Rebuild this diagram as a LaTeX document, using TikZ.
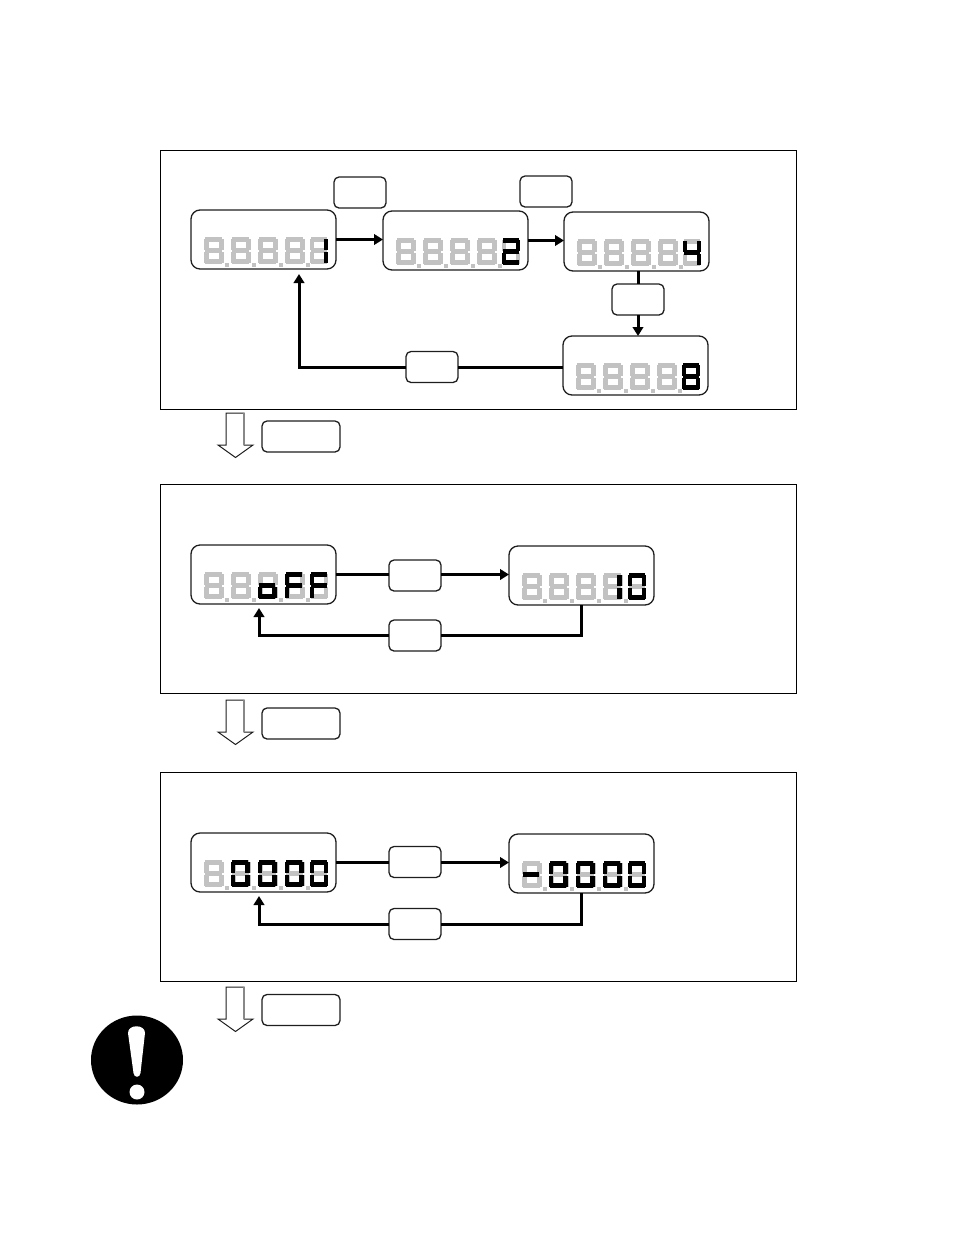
\documentclass[tikz,border=0pt]{standalone}
\usetikzlibrary{arrows.meta,shapes.geometric}
\definecolor{lcdgray}{HTML}{C2C2C2}
\definecolor{edgeink}{HTML}{1E1E1E}
\tikzset{
  panel/.style={draw=black,line width=1pt,fill=none},
  display/.style={draw=edgeink,line width=1.3pt,rounded corners=9pt,fill=white,inner sep=0pt,outer sep=0pt,minimum width=145pt,minimum height=59pt},
  keybox/.style={draw=edgeink,line width=1.3pt,rounded corners=5pt,fill=white,inner sep=0pt,outer sep=0pt,minimum width=52pt,minimum height=31pt},
  widekey/.style={keybox,minimum width=78pt},
  wire/.style={line width=3pt,black},
  arrowwire/.style={wire,-{Triangle[length=9pt,width=10.5pt]}},
  downarrow/.style={draw=edgeink,line width=1pt,fill=white,line join=miter}
}
\newcommand{\lcdsega}{\fill (1.5,0) rectangle (18.5,4.8);}
\newcommand{\lcdsegb}{\fill (15.2,1.5) rectangle (20,12.5);}
\newcommand{\lcdsegc}{\fill (15.2,14.5) rectangle (20,25.5);}
\newcommand{\lcdsegd}{\fill (1.5,22.2) rectangle (18.5,27);}
\newcommand{\lcdsege}{\fill (0,14.5) rectangle (4.8,25.5);}
\newcommand{\lcdsegf}{\fill (0,1.5) rectangle (4.8,12.5);}
\newcommand{\lcdsegg}{\fill (1.5,11.1) rectangle (18.5,15.9);}
% #1 node, #2 digit index 0-3, #3 segments
\newcommand{\lcdblack}[3]{%
  \begin{scope}[shift={(#1.north west)},shift={(12.8+27*#2,27)},xscale=.95,black]
    \foreach \s in {#3}{\csname lcdseg\s\endcsname}
  \end{scope}}
% rightmost digit: sits a little to the left and is a little narrower
\newcommand{\lcdlast}[2]{%
  \begin{scope}[shift={(#1.north west)},shift={(118.8,27)},xscale=.92,black]
    \foreach \s in {#2}{\csname lcdseg\s\endcsname}
  \end{scope}}
\newcommand{\lcdbase}[1]{%
  \begin{scope}[shift={(#1.north west)},shift={(12.8,27)},lcdgray]
    \foreach \i in {0,...,3}{%
      \begin{scope}[shift={(27*\i,0)}]
        \foreach \s in {a,b,c,d,e,f,g}{\csname lcdseg\s\endcsname}
      \end{scope}}
    \begin{scope}[shift={(106,0)},xscale=.92]
      \foreach \s in {a,b,c,d,e,f,g}{\csname lcdseg\s\endcsname}
    \end{scope}
    \foreach \i in {0,...,3}{\fill (21.5+27*\i,25.5) rectangle (25.5+27*\i,29.5);}
  \end{scope}}
\newcommand{\downarrowshape}[1]{%
  \draw[downarrow] (226,#1) -- (244,#1) -- (244,#1+32) -- (253,#1+32) -- (235.5,#1+44.5) -- (218,#1+32) -- (226,#1+32) -- cycle;
  \draw[lcdgray!70!black,line width=1.1pt] (244,#1) -- (244,#1+32);}
\begin{document}
\begin{tikzpicture}[x=1pt,y=-1pt]
\useasboundingbox (0,0) rectangle (954,1235);
% panels
\draw[panel] (160,150) rectangle (796,409);
\draw[panel] (160,484) rectangle (796,693);
\draw[panel] (160,772) rectangle (796,981);
% panel 1
\node[display] (a1) at (263.5,239.5) {};
\node[display] (a2) at (455.5,240.5) {};
\node[display] (a3) at (636.5,241.5) {};
\node[display] (a4) at (635.5,365.5) {};
\node[keybox] (ka) at (360,192.5) {};
\node[keybox] (kb) at (546,191.5) {};
\node[keybox] (kc) at (638,299.5) {};
\node[keybox] (kd) at (432,367) {};
\coordinate (tipa) at (299,274);
\lcdbase{a1}\lcdbase{a2}\lcdbase{a3}\lcdbase{a4}
\lcdlast{a1}{b,c}
\lcdlast{a2}{a,b,g,e,d}
\lcdlast{a3}{f,g,b,c}
\lcdlast{a4}{a,b,c,d,e,f,g}
\draw[arrowwire] (a1.east) -- (a1.east -| a2.west);
\draw[arrowwire] (a2.east) -- (a2.east -| a3.west);
\draw[wire] (kc.north |- a3.south) -- (kc.north);
\draw[arrowwire] (kc.south) -- (kc.south |- a4.north);
\draw[wire] (kd.east -| a4.west) -- (kd.east);
\draw[arrowwire] (kd.west) -| (tipa);
% panel 2
\node[display] (b1) at (263.5,574.5) {};
\node[display] (b2) at (581.5,575.5) {};
\node[keybox] (ke) at (415,575.5) {};
\node[keybox] (kf) at (415,635.5) {};
\coordinate (tipb) at (259,608);
\lcdbase{b1}\lcdbase{b2}
\lcdblack{b1}{2}{c,d,e,g}
\lcdblack{b1}{3}{a,f,g,e}
\lcdlast{b1}{a,f,g,e}
\lcdblack{b2}{3}{b,c}
\lcdlast{b2}{a,b,c,d,e,f}
\draw[wire] (b1.east) -- (ke.west |- b1.east);
\draw[arrowwire] (ke.east |- b1.east) -- (b2.west |- b1.east);
\draw[wire] (b2.south) |- (kf.east);
\draw[arrowwire] (kf.west) -| (tipb);
% panel 3
\node[display] (c1) at (263.5,862.5) {};
\node[display] (c2) at (581.5,863.5) {};
\node[keybox] (kg) at (415,862) {};
\node[keybox] (kh) at (415,924) {};
\coordinate (tipc) at (259,896);
\lcdbase{c1}\lcdbase{c2}
\foreach \d in {1,2,3}{\lcdblack{c1}{\d}{a,b,c,d,e,f}\lcdblack{c2}{\d}{a,b,c,d,e,f}}
\lcdlast{c1}{a,b,c,d,e,f}
\lcdlast{c2}{a,b,c,d,e,f}
\lcdblack{c2}{0}{g}
\draw[wire] (c1.east) -- (kg.west |- c1.east);
\draw[arrowwire] (kg.east |- c1.east) -- (c2.west |- c1.east);
\draw[wire] (c2.south) |- (kh.east);
\draw[arrowwire] (kh.west) -| (tipc);
% down arrows and wide keys
\downarrowshape{413}
\downarrowshape{700}
\downarrowshape{987}
\node[widekey] (w1) at (301,436.5) {};
\node[widekey] (w2) at (301,723.5) {};
\node[widekey] (w3) at (301,1010) {};
% caution icon
\node[ellipse,fill=black,draw=none,inner sep=0pt,minimum width=92pt,minimum height=89pt] (warn) at (137,1060) {};
\fill[white] (128,1033) .. controls (128,1024) and (145,1024) .. (145,1033) -- (140.5,1073) .. controls (140,1078) and (134,1078) .. (133.5,1073) -- cycle;
\fill[white] (137,1092) circle (7.5);
\end{tikzpicture}
\end{document}
